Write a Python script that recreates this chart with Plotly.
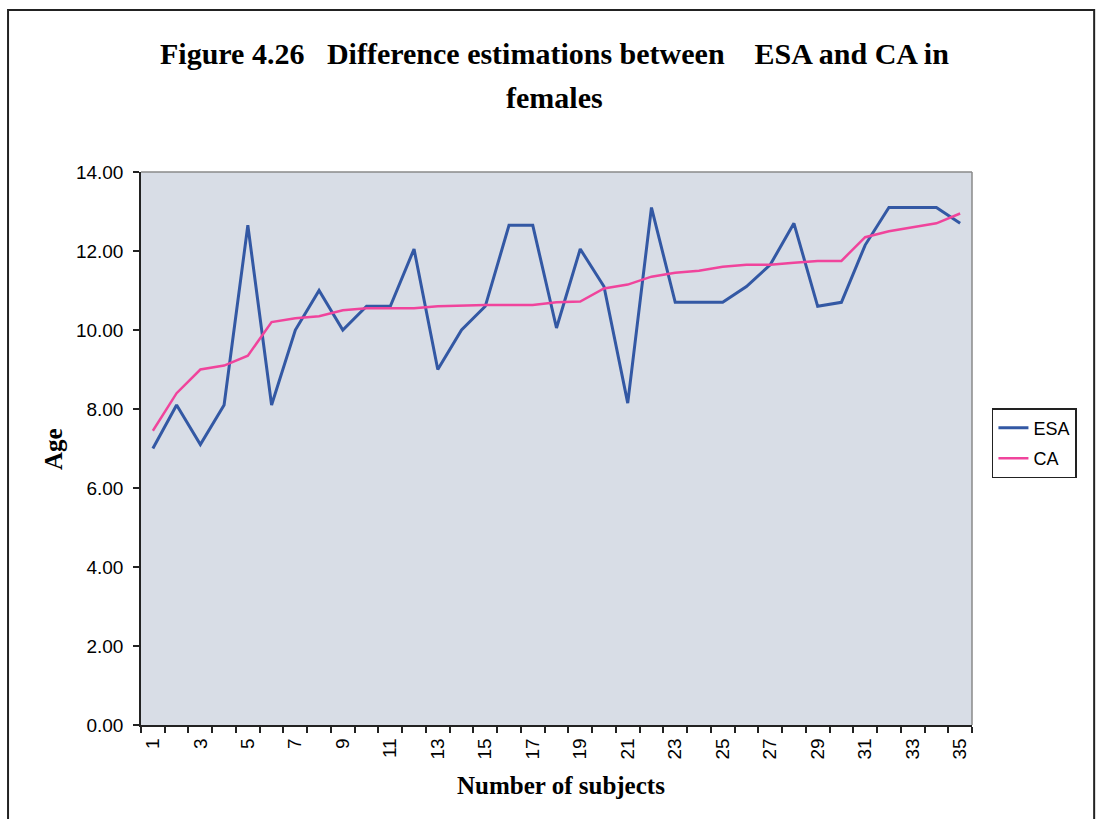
import plotly.graph_objects as go

# Subject index and the two age estimates per subject
subjects = list(range(1, 36))
esa = [7.0, 8.1, 7.1, 8.1, 12.65, 8.1, 10.0, 11.0, 10.0, 10.6,
       10.6, 12.05, 9.0, 10.0, 10.6, 12.65, 12.65, 10.05, 12.05, 11.1,
       8.15, 13.1, 10.7, 10.7, 10.7, 11.1, 11.65, 12.7, 10.6, 10.7,
       12.15, 13.1, 13.1, 13.1, 12.7]
ca = [7.45, 8.4, 9.0, 9.1, 9.35, 10.2, 10.3, 10.35, 10.5, 10.55,
      10.55, 10.55, 10.6, 10.62, 10.63, 10.63, 10.63, 10.7, 10.72, 11.05,
      11.15, 11.35, 11.45, 11.5, 11.6, 11.65, 11.65, 11.7, 11.75, 11.75,
      12.35, 12.5, 12.6, 12.7, 12.95]
x_tick_labels = [str(v) for v in range(1, 36, 2)]
y_ticks = [0, 2, 4, 6, 8, 10, 12, 14]

serif = "Liberation Serif"
sans = "Liberation Sans"

fig = go.Figure()
fig.add_trace(go.Scatter(x=subjects, y=esa, name="ESA", mode="lines", legendgroup="esa",
                         line=dict(color="#3358a4", width=3)))
fig.add_trace(go.Scatter(x=subjects, y=ca, name="CA", mode="lines", legendgroup="ca",
                         line=dict(color="#f0449c", width=2.5)))

fig.update_layout(
    width=1096, height=819,
    margin=dict(l=141, r=124, t=172, b=94),
    paper_bgcolor="white",
    plot_bgcolor="#d8dde6",
    showlegend=True,
    legend=dict(x=1.024, y=0.573, xanchor="left", yanchor="top",
                bgcolor="white", bordercolor="#222222", borderwidth=1.5,
                font=dict(family=sans, size=18, color="black"),
                traceorder="grouped", tracegroupgap=4),
    font=dict(family=sans, color="black"),
)

fig.update_xaxes(
    range=[0.5, 35.5],
    tickmode="array",
    tickvals=list(range(1, 36, 2)),
    ticktext=x_tick_labels,
    tickangle=-90,
    ticks="",
    ticklabelstandoff=4,
    tickfont=dict(family=sans, size=19, color="black"),
    showgrid=False, zeroline=False,
    showline=True, linecolor="#222222", linewidth=1.5,
    minor=dict(tickmode="array", tickvals=[v + 0.5 for v in range(0, 36)],
               ticks="outside", ticklen=6, tickcolor="#222222", tickwidth=1.5,
               showgrid=False),
)
fig.update_yaxes(
    range=[0, 14],
    tickmode="array",
    tickvals=y_ticks,
    tickformat=".2f",
    ticks="outside", ticklen=6, tickcolor="#222222", tickwidth=1.5,
    ticklabelstandoff=6,
    tickfont=dict(family=sans, size=19, color="black"),
    showgrid=False, zeroline=False,
    showline=True, linecolor="#222222", linewidth=1.5,
)

# Grey frame on the top and right of the plotting area
fig.add_shape(type="line", xref="paper", yref="paper", x0=0, x1=1, y0=1, y1=1,
              line=dict(color="#8a8a8a", width=1.5))
fig.add_shape(type="line", xref="paper", yref="paper", x0=1, x1=1, y0=0, y1=1,
              line=dict(color="#8a8a8a", width=1.5))

# Outer chart border
fig.add_shape(type="rect", xref="paper", yref="paper",
              x0=-0.16, x1=1.147, y0=-0.2, y1=1.293,
              line=dict(color="#222222", width=2), layer="below")

title_font = dict(family=serif, size=30, color="black")
fig.add_annotation(text="<b>Figure 4.26&nbsp;&nbsp; Difference estimations between &nbsp;&nbsp;&nbsp;ESA and CA in</b>",
                   xref="paper", yref="paper", x=0.497, y=1.215,
                   xanchor="center", yanchor="middle", showarrow=False, font=title_font)
fig.add_annotation(text="<b>females</b>",
                   xref="paper", yref="paper", x=0.497, y=1.1356,
                   xanchor="center", yanchor="middle", showarrow=False, font=title_font)

axis_title_font = dict(family=serif, size=25, color="black")
fig.add_annotation(text="<b>Number of subjects</b>",
                   xref="paper", yref="paper", x=0.505, y=-0.1085,
                   xanchor="center", yanchor="middle", showarrow=False, font=axis_title_font)
fig.add_annotation(text="<b>Age</b>", textangle=-90,
                   xref="paper", yref="paper", x=-0.106, y=0.499,
                   xanchor="center", yanchor="middle", showarrow=False, font=axis_title_font)

fig.write_html("out.html")
